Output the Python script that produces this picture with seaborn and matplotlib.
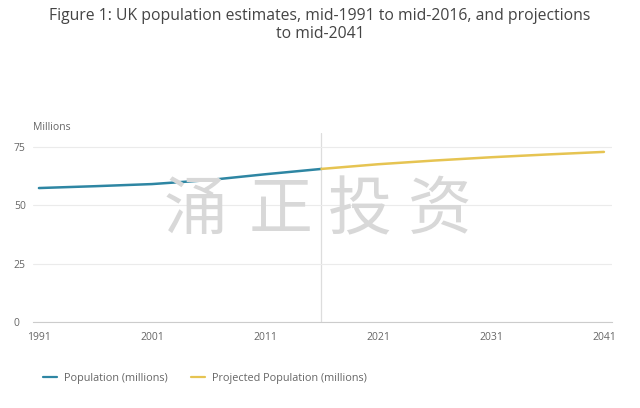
import numpy as np
import pandas as pd
import seaborn as sns
import matplotlib.pyplot as plt

# UK population, millions
years_est = [1991, 1996, 2001, 2006, 2011, 2016]
pop_est = [57.4, 58.2, 59.1, 60.8, 63.3, 65.6]

years_proj = [2016, 2021, 2026, 2031, 2036, 2041]
pop_proj = [65.6, 67.6, 69.2, 70.6, 71.8, 72.9]

x_ticks = [1991, 2001, 2011, 2021, 2031, 2041]
y_ticks = [0, 25, 50, 75]

df = pd.concat([
    pd.DataFrame({'year': years_est, 'value': pop_est, 'series': 'Population (millions)'}),
    pd.DataFrame({'year': years_proj, 'value': pop_proj, 'series': 'Projected Population (millions)'}),
])

sns.set_style('white')
plt.rcParams['font.family'] = ['Open Sans', 'Noto Sans CJK SC', 'DejaVu Sans']

fig = plt.figure(figsize=(6.4, 4.08), dpi=100)

# watermark (behind the chart lines)
for ch, xp in zip('涌正投资', [196, 281, 360, 440]):
    fig.text(xp / 640, 1 - 211 / 408, ch, ha='center', va='center', fontsize=46,
             color='#d8d8d8', family=['Noto Sans CJK SC'], zorder=0)

ax = fig.add_axes([0.052, 0.211, 0.904, 0.463])
ax.patch.set_alpha(0)

colors = {'Population (millions)': '#2e86a3', 'Projected Population (millions)': '#e6c452'}
sns.lineplot(data=df, x='year', y='value', hue='series', palette=colors, linewidth=1.8, ax=ax)

ax.set_xlim(1990.5, 2041.7)
ax.set_ylim(0, 81)
ax.set_xticks(x_ticks)
ax.set_yticks(y_ticks)
ax.grid(axis='y', color='#ebebeb', linewidth=0.8)
ax.set_axisbelow(True)
for s in ['top', 'right', 'left']:
    ax.spines[s].set_visible(False)
ax.spines['bottom'].set_color('#cccccc')
ax.spines['bottom'].set_linewidth(0.8)
ax.axvline(2016, color='#dddddd', linewidth=0.9, zorder=0)

ax.tick_params(axis='x', colors='#cccccc', length=4, width=0.8, labelcolor='#666666', labelsize=7.5, pad=3)
ax.tick_params(axis='y', length=0, labelcolor='#666666', labelsize=7.5, pad=14)
for lab in ax.get_yticklabels():
    lab.set_horizontalalignment('left')
ax.set_xlabel('')
ax.set_ylabel('')

fig.text(33 / 640, 1 - 128 / 408, 'Millions', fontsize=7.5, color='#666666', va='center')
fig.text(0.5, 1 - 25 / 408, 'Figure 1: UK population estimates, mid-1991 to mid-2016, and projections\nto mid-2041',
         ha='center', va='center', fontsize=11.3, color='#444444', linespacing=1.15)

leg = ax.legend(loc='upper left', bbox_to_anchor=(0.0, -0.22), ncol=2, frameon=False,
                fontsize=7.8, handlelength=1.3, columnspacing=2.2, handletextpad=0.6)
for line in leg.get_lines():
    line.set_linewidth(1.6)
for t in leg.get_texts():
    t.set_color('#666666')

fig.savefig('out.png', dpi=100)
